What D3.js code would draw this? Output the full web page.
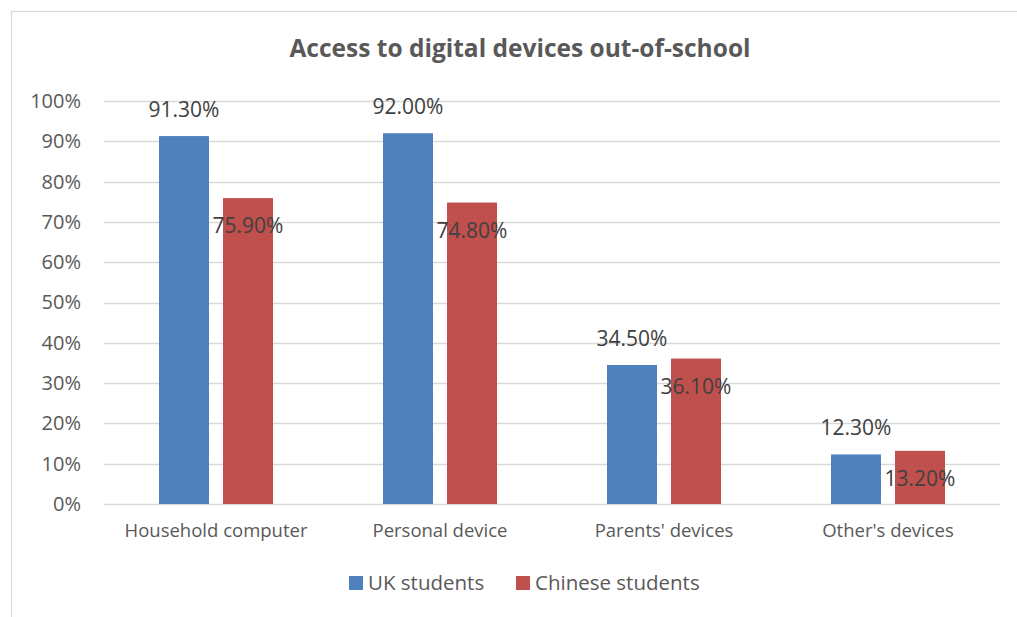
<!DOCTYPE html>
<html>
<head>
<meta charset="utf-8">
<script src="https://cdn.jsdelivr.net/npm/d3@7"></script>
<style>
  html, body { margin: 0; padding: 0; background: #fff; }
  svg { display: block; font-family: "Open Sans", "Noto Sans", sans-serif; }
</style>
</head>
<body>
<svg id="chart" width="1017" height="617"></svg>
<script>
// Survey results: share of students with access to each kind of device
const categories = ["Household computer", "Personal device", "Parents' devices", "Other's devices"];
const seriesNames = ["UK students", "Chinese students"];
const ukValues = [91.3, 92.0, 34.5, 12.3];
const chineseValues = [75.9, 74.8, 36.1, 13.2];
const yTicks = [0, 10, 20, 30, 40, 50, 60, 70, 80, 90, 100];
const colors = ["#4F81BD", "#C0504D"];

const svg = d3.select("#chart");
const W = 1017, H = 617;

// Chart frame
svg.append("rect")
  .attr("x", 11.5).attr("y", 11.5)
  .attr("width", W + 20).attr("height", H + 20)
  .attr("fill", "#fff").attr("stroke", "#d9d9d9").attr("stroke-width", 1.2);

const plot = { left: 104, right: 1000, top: 101, bottom: 504 };

const x = d3.scaleBand().domain(categories).range([plot.left, plot.right]);
// Two bars per category, occupying the middle ~51% of each band
const groupW = x.bandwidth() * 0.509;
const xs = d3.scaleBand().domain(seriesNames)
  .range([(x.bandwidth() - groupW) / 2, (x.bandwidth() + groupW) / 2])
  .paddingInner(0.219).paddingOuter(0);
const y = d3.scaleLinear().domain([0, 100]).range([plot.bottom, plot.top]);

// Title
svg.append("text")
  .attr("x", 520).attr("y", 57)
  .attr("text-anchor", "middle")
  .attr("font-size", 24.5).attr("font-weight", "bold")
  .attr("fill", "#595959")
  .text("Access to digital devices out-of-school");

// Gridlines
svg.append("g").selectAll("line").data(yTicks).join("line")
  .attr("x1", plot.left).attr("x2", plot.right)
  .attr("y1", d => Math.round(y(d)) + 0.5).attr("y2", d => Math.round(y(d)) + 0.5)
  .attr("stroke", "#d9d9d9").attr("stroke-width", 1.5);

// Y axis labels
const yAxis = d3.axisLeft(y).tickValues(yTicks).tickFormat(d => d + "%").tickSize(0).tickPadding(0);
const yg = svg.append("g").attr("transform", `translate(${plot.left - 23},0)`).call(yAxis);
yg.select(".domain").remove();
yg.selectAll("text").attr("font-size", 20).attr("fill", "#595959").attr("font-family", "Open Sans");

// X axis labels
const xAxis = d3.axisBottom(x).tickSize(0).tickPadding(0);
const xg = svg.append("g").attr("transform", `translate(0,${plot.bottom + 33})`).call(xAxis);
xg.select(".domain").remove();
xg.selectAll("text").attr("dy", 0).attr("font-size", 18.5).attr("fill", "#595959").attr("font-family", "Open Sans");

// Bars
const rows = categories.map((c, i) => ({ cat: c, vals: [ukValues[i], chineseValues[i]] }));
const groups = svg.append("g").selectAll("g").data(rows).join("g")
  .attr("transform", d => `translate(${x(d.cat)},0)`);

groups.selectAll("rect").data(d => d.vals.map((v, j) => ({ v, s: seriesNames[j], j }))).join("rect")
  .attr("x", d => xs(d.s))
  .attr("width", xs.bandwidth())
  .attr("y", d => y(d.v))
  .attr("height", d => y(0) - y(d.v))
  .attr("fill", d => colors[d.j]);

// Value labels: UK above bar, Chinese just below bar top
groups.selectAll("text.val").data(d => d.vals.map((v, j) => ({ v, s: seriesNames[j], j }))).join("text")
  .attr("class", "val")
  .attr("x", d => xs(d.s) + xs.bandwidth() / 2)
  .attr("y", d => d.j === 0 ? y(d.v) - 19 : y(d.v) + 35)
  .attr("text-anchor", "middle")
  .attr("font-size", 21).attr("fill", "#404040")
  .text(d => d.v.toFixed(2) + "%");

// Legend
const legendItems = [
  { name: seriesNames[0], color: colors[0], x: 349 },
  { name: seriesNames[1], color: colors[1], x: 516 }
];
const lg = svg.append("g").selectAll("g").data(legendItems).join("g")
  .attr("transform", d => `translate(${d.x},576)`);
lg.append("rect").attr("width", 14).attr("height", 14).attr("fill", d => d.color);
lg.append("text").attr("x", 19).attr("y", 14)
  .attr("font-size", 20.5).attr("fill", "#595959")
  .text(d => d.name);
</script>
</body>
</html>
